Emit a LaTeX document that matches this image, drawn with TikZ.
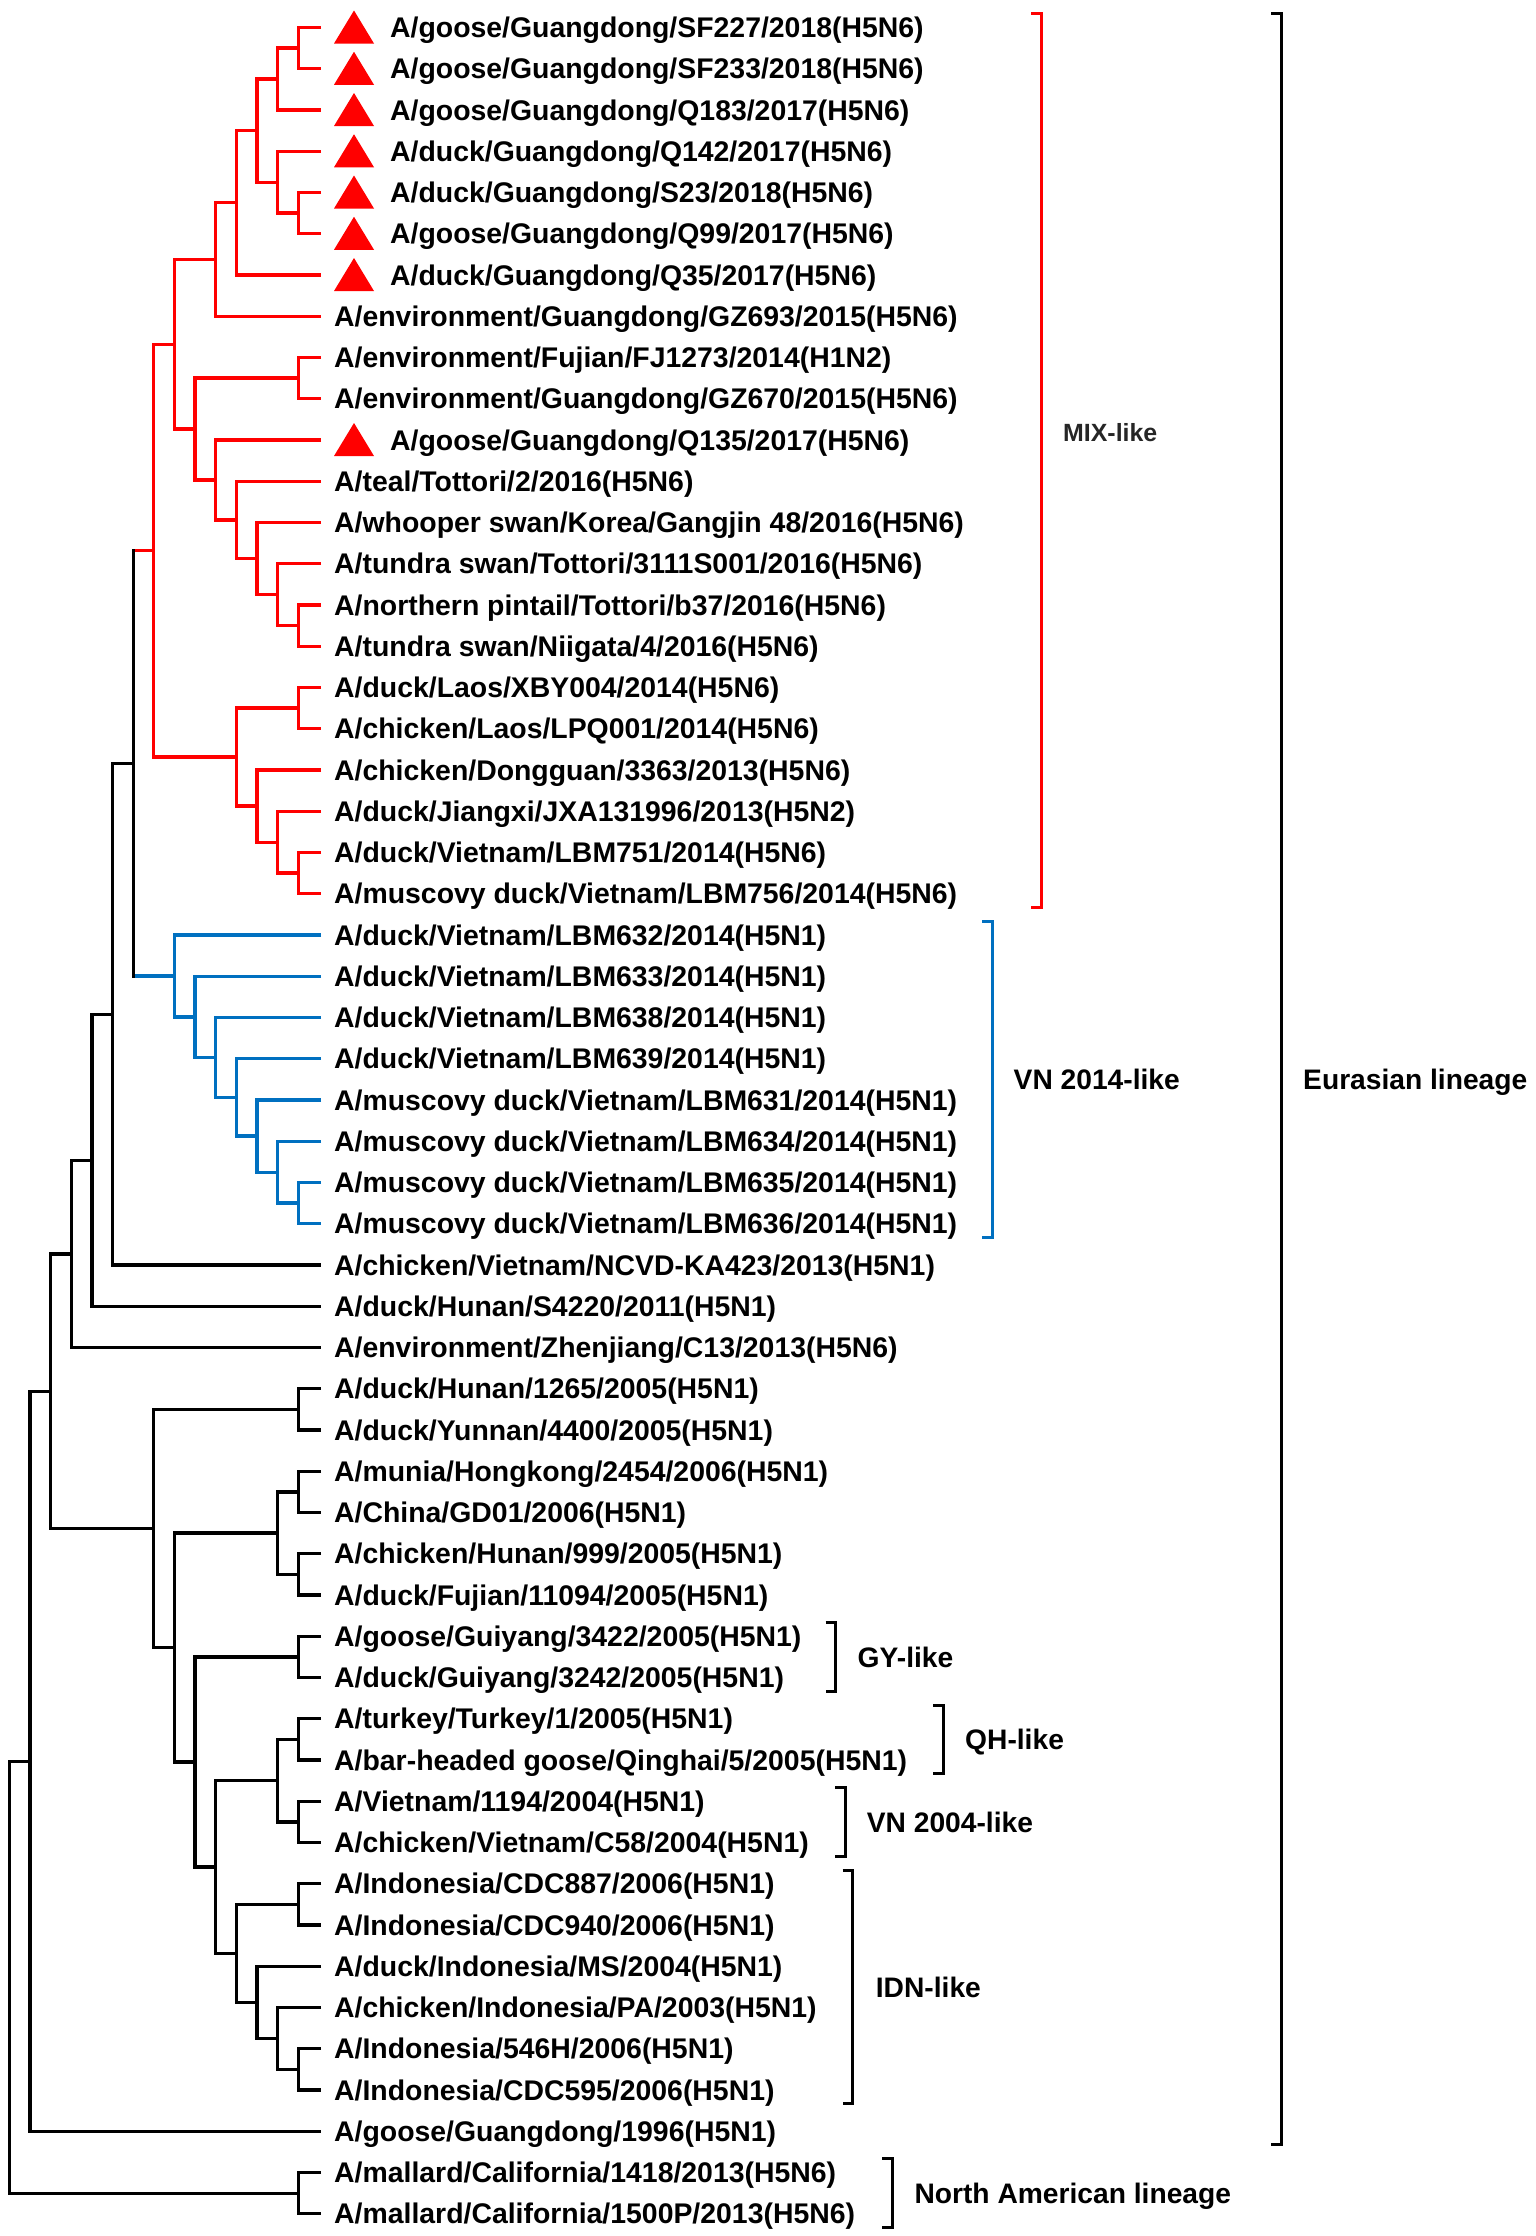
\documentclass[tikz,border=0pt]{standalone}
\usepackage{fontspec}
\setmainfont{Liberation Sans}
\definecolor{treered}{RGB}{255,0,0}
\definecolor{treeblue}{RGB}{0,112,192}
\definecolor{mixgray}{RGB}{38,38,38}
\newcommand\clade[4]{\draw[br,#1] (#3) -- (#2 |- #3) -- (#2 |- #4) -- (#4);}
\tikzset{
  br/.style={line width=3.3pt, line join=miter},
  brk/.style={line width=3pt, line join=miter},
  leaf/.style={font=\bfseries\fontsize{28.4}{34}\selectfont, inner sep=0pt, anchor=base west},
  clab/.style={font=\bfseries\fontsize{28.2}{34}\selectfont, inner sep=0pt, anchor=base west, yshift=-10.2pt},
  tri/.style={fill=treered},
}
\begin{document}
\begin{tikzpicture}[x=1pt, y=-41.25pt]
\fill[white] (0,-0.66667) rectangle (1536,53.5394);
\useasboundingbox (0,-0.66667) rectangle (1536,53.5394);
% leaf tips
\foreach \i in {0,...,53} \coordinate (t\i) at (321,\i);
% internal nodes
\coordinate (a01) at (298.3,0.5);
\coordinate (a012) at (277.7,1.25);
\coordinate (a45) at (298.3,4.5);
\coordinate (a345) at (277.7,3.75);
\coordinate (a05) at (257.0,2.5);
\coordinate (a06) at (236.4,4.25);
\coordinate (a07) at (215.7,5.625);
\coordinate (a89) at (298.3,8.5);
\coordinate (a1415) at (298.3,14.5);
\coordinate (a1315) at (277.7,13.75);
\coordinate (a1215) at (257.0,12.875);
\coordinate (a1115) at (236.4,11.9375);
\coordinate (a1015) at (215.7,10.96875);
\coordinate (a815) at (195.1,9.734375);
\coordinate (a015) at (174.5,7.6797);
\coordinate (a1617) at (298.3,16.5);
\coordinate (a2021) at (298.3,20.5);
\coordinate (a1921) at (277.7,19.75);
\coordinate (a1821) at (257.0,18.875);
\coordinate (a1621) at (236.4,17.6875);
\coordinate (mix) at (153.8,12.6836);
\coordinate (b2829) at (298.3,28.5);
\coordinate (b2729) at (277.7,27.75);
\coordinate (b2629) at (257.0,26.875);
\coordinate (b2529) at (236.4,25.9375);
\coordinate (b2429) at (215.7,24.96875);
\coordinate (b2329) at (195.1,23.984375);
\coordinate (b2229) at (174.5,22.9921875);
\coordinate (c9) at (133.2,17.8379);
\coordinate (c10) at (112.5,23.919);
\coordinate (c11) at (91.9,27.4595);
\coordinate (c12) at (71.3,29.7298);
\coordinate (d3334) at (298.3,33.5);
\coordinate (d3536) at (298.3,35.5);
\coordinate (d3738) at (298.3,37.5);
\coordinate (d3538) at (277.7,36.5);
\coordinate (d3940) at (298.3,39.5);
\coordinate (d4142) at (298.3,41.5);
\coordinate (d4344) at (298.3,43.5);
\coordinate (d4144) at (277.7,42.5);
\coordinate (d4546) at (298.3,45.5);
\coordinate (d4950) at (298.3,49.5);
\coordinate (d4850) at (277.7,48.75);
\coordinate (d4750) at (257.0,47.875);
\coordinate (d4550) at (236.4,46.6875);
\coordinate (d4150) at (215.7,44.59375);
\coordinate (d3950) at (195.1,42.046875);
\coordinate (d3550) at (174.5,39.2734);
\coordinate (d3350) at (153.8,36.3867);
\coordinate (c13) at (50.6,33.058);
\coordinate (c14) at (30.0,42.029);
\coordinate (mal) at (298.3,52.5);
\coordinate (root) at (9.3,47.2645);
% red clade
\clade{treered}{a01}{t0}{t1}
\clade{treered}{a012}{a01}{t2}
\clade{treered}{a45}{t4}{t5}
\clade{treered}{a345}{t3}{a45}
\clade{treered}{a05}{a012}{a345}
\clade{treered}{a06}{a05}{t6}
\clade{treered}{a07}{a06}{t7}
\clade{treered}{a89}{t8}{t9}
\clade{treered}{a1415}{t14}{t15}
\clade{treered}{a1315}{t13}{a1415}
\clade{treered}{a1215}{t12}{a1315}
\clade{treered}{a1115}{t11}{a1215}
\clade{treered}{a1015}{t10}{a1115}
\clade{treered}{a815}{a89}{a1015}
\clade{treered}{a015}{a07}{a815}
\clade{treered}{a1617}{t16}{t17}
\clade{treered}{a2021}{t20}{t21}
\clade{treered}{a1921}{t19}{a2021}
\clade{treered}{a1821}{t18}{a1921}
\clade{treered}{a1621}{a1617}{a1821}
\clade{treered}{mix}{a015}{a1621}
% blue clade
\clade{treeblue}{b2829}{t28}{t29}
\clade{treeblue}{b2729}{t27}{b2829}
\clade{treeblue}{b2629}{t26}{b2729}
\clade{treeblue}{b2529}{t25}{b2629}
\clade{treeblue}{b2429}{t24}{b2529}
\clade{treeblue}{b2329}{t23}{b2429}
\clade{treeblue}{b2229}{t22}{b2329}
% node joining MIX and VN2014 clades
\draw[br,treered] (c9 |- mix) -- (mix);
\draw[br,treeblue] (c9 |- b2229) -- (b2229);
\draw[br,black,line cap=rect] (c9 |- mix) -- (c9 |- b2229);
% black backbone
\clade{black}{c10}{c9}{t30}
\clade{black}{c11}{c10}{t31}
\clade{black}{c12}{c11}{t32}
\clade{black}{d3334}{t33}{t34}
\clade{black}{d3536}{t35}{t36}
\clade{black}{d3738}{t37}{t38}
\clade{black}{d3538}{d3536}{d3738}
\clade{black}{d3940}{t39}{t40}
\clade{black}{d4142}{t41}{t42}
\clade{black}{d4344}{t43}{t44}
\clade{black}{d4144}{d4142}{d4344}
\clade{black}{d4546}{t45}{t46}
\clade{black}{d4950}{t49}{t50}
\clade{black}{d4850}{t48}{d4950}
\clade{black}{d4750}{t47}{d4850}
\clade{black}{d4550}{d4546}{d4750}
\clade{black}{d4150}{d4144}{d4550}
\clade{black}{d3950}{d3940}{d4150}
\clade{black}{d3550}{d3538}{d3950}
\clade{black}{d3350}{d3334}{d3550}
\clade{black}{c13}{c12}{d3350}
\clade{black}{c14}{c13}{t51}
\clade{black}{mal}{t52}{t53}
\clade{black}{root}{c14}{mal}
% triangles
\foreach \i in {0,...,6,10}
  \fill[tri] ([xshift=13pt,yshift=-16pt]t\i) -- ([xshift=53pt,yshift=-16pt]t\i) -- ([xshift=33pt,yshift=17pt]t\i) -- cycle;
% leaf labels
\node[leaf] (l0) at ([xshift=69pt,yshift=-10.2pt]t0) {A/goose/Guangdong/SF227/2018(H5N6)};
\node[leaf] (l1) at ([xshift=69pt,yshift=-10.2pt]t1) {A/goose/Guangdong/SF233/2018(H5N6)};
\node[leaf] (l2) at ([xshift=69pt,yshift=-10.2pt]t2) {A/goose/Guangdong/Q183/2017(H5N6)};
\node[leaf] (l3) at ([xshift=69pt,yshift=-10.2pt]t3) {A/duck/Guangdong/Q142/2017(H5N6)};
\node[leaf] (l4) at ([xshift=69pt,yshift=-10.2pt]t4) {A/duck/Guangdong/S23/2018(H5N6)};
\node[leaf] (l5) at ([xshift=69pt,yshift=-10.2pt]t5) {A/goose/Guangdong/Q99/2017(H5N6)};
\node[leaf] (l6) at ([xshift=69pt,yshift=-10.2pt]t6) {A/duck/Guangdong/Q35/2017(H5N6)};
\node[leaf] (l7) at ([xshift=13pt,yshift=-10.2pt]t7) {A/environment/Guangdong/GZ693/2015(H5N6)};
\node[leaf] (l8) at ([xshift=13pt,yshift=-10.2pt]t8) {A/environment/Fujian/FJ1273/2014(H1N2)};
\node[leaf] (l9) at ([xshift=13pt,yshift=-10.2pt]t9) {A/environment/Guangdong/GZ670/2015(H5N6)};
\node[leaf] (l10) at ([xshift=69pt,yshift=-10.2pt]t10) {A/goose/Guangdong/Q135/2017(H5N6)};
\node[leaf] (l11) at ([xshift=13pt,yshift=-10.2pt]t11) {A/teal/Tottori/2/2016(H5N6)};
\node[leaf] (l12) at ([xshift=13pt,yshift=-10.2pt]t12) {A/whooper swan/Korea/Gangjin 48/2016(H5N6)};
\node[leaf] (l13) at ([xshift=13pt,yshift=-10.2pt]t13) {A/tundra swan/Tottori/3111S001/2016(H5N6)};
\node[leaf] (l14) at ([xshift=13pt,yshift=-10.2pt]t14) {A/northern pintail/Tottori/b37/2016(H5N6)};
\node[leaf] (l15) at ([xshift=13pt,yshift=-10.2pt]t15) {A/tundra swan/Niigata/4/2016(H5N6)};
\node[leaf] (l16) at ([xshift=13pt,yshift=-10.2pt]t16) {A/duck/Laos/XBY004/2014(H5N6)};
\node[leaf] (l17) at ([xshift=13pt,yshift=-10.2pt]t17) {A/chicken/Laos/LPQ001/2014(H5N6)};
\node[leaf] (l18) at ([xshift=13pt,yshift=-10.2pt]t18) {A/chicken/Dongguan/3363/2013(H5N6)};
\node[leaf] (l19) at ([xshift=13pt,yshift=-10.2pt]t19) {A/duck/Jiangxi/JXA131996/2013(H5N2)};
\node[leaf] (l20) at ([xshift=13pt,yshift=-10.2pt]t20) {A/duck/Vietnam/LBM751/2014(H5N6)};
\node[leaf] (l21) at ([xshift=13pt,yshift=-10.2pt]t21) {A/muscovy duck/Vietnam/LBM756/2014(H5N6)};
\node[leaf] (l22) at ([xshift=13pt,yshift=-10.2pt]t22) {A/duck/Vietnam/LBM632/2014(H5N1)};
\node[leaf] (l23) at ([xshift=13pt,yshift=-10.2pt]t23) {A/duck/Vietnam/LBM633/2014(H5N1)};
\node[leaf] (l24) at ([xshift=13pt,yshift=-10.2pt]t24) {A/duck/Vietnam/LBM638/2014(H5N1)};
\node[leaf] (l25) at ([xshift=13pt,yshift=-10.2pt]t25) {A/duck/Vietnam/LBM639/2014(H5N1)};
\node[leaf] (l26) at ([xshift=13pt,yshift=-10.2pt]t26) {A/muscovy duck/Vietnam/LBM631/2014(H5N1)};
\node[leaf] (l27) at ([xshift=13pt,yshift=-10.2pt]t27) {A/muscovy duck/Vietnam/LBM634/2014(H5N1)};
\node[leaf] (l28) at ([xshift=13pt,yshift=-10.2pt]t28) {A/muscovy duck/Vietnam/LBM635/2014(H5N1)};
\node[leaf] (l29) at ([xshift=13pt,yshift=-10.2pt]t29) {A/muscovy duck/Vietnam/LBM636/2014(H5N1)};
\node[leaf] (l30) at ([xshift=13pt,yshift=-10.2pt]t30) {A/chicken/Vietnam/NCVD-KA423/2013(H5N1)};
\node[leaf] (l31) at ([xshift=13pt,yshift=-10.2pt]t31) {A/duck/Hunan/S4220/2011(H5N1)};
\node[leaf] (l32) at ([xshift=13pt,yshift=-10.2pt]t32) {A/environment/Zhenjiang/C13/2013(H5N6)};
\node[leaf] (l33) at ([xshift=13pt,yshift=-10.2pt]t33) {A/duck/Hunan/1265/2005(H5N1)};
\node[leaf] (l34) at ([xshift=13pt,yshift=-10.2pt]t34) {A/duck/Yunnan/4400/2005(H5N1)};
\node[leaf] (l35) at ([xshift=13pt,yshift=-10.2pt]t35) {A/munia/Hongkong/2454/2006(H5N1)};
\node[leaf] (l36) at ([xshift=13pt,yshift=-10.2pt]t36) {A/China/GD01/2006(H5N1)};
\node[leaf] (l37) at ([xshift=13pt,yshift=-10.2pt]t37) {A/chicken/Hunan/999/2005(H5N1)};
\node[leaf] (l38) at ([xshift=13pt,yshift=-10.2pt]t38) {A/duck/Fujian/11094/2005(H5N1)};
\node[leaf] (l39) at ([xshift=13pt,yshift=-10.2pt]t39) {A/goose/Guiyang/3422/2005(H5N1)};
\node[leaf] (l40) at ([xshift=13pt,yshift=-10.2pt]t40) {A/duck/Guiyang/3242/2005(H5N1)};
\node[leaf] (l41) at ([xshift=13pt,yshift=-10.2pt]t41) {A/turkey/Turkey/1/2005(H5N1)};
\node[leaf] (l42) at ([xshift=13pt,yshift=-10.2pt]t42) {A/bar-headed goose/Qinghai/5/2005(H5N1)};
\node[leaf] (l43) at ([xshift=13pt,yshift=-10.2pt]t43) {A/Vietnam/1194/2004(H5N1)};
\node[leaf] (l44) at ([xshift=13pt,yshift=-10.2pt]t44) {A/chicken/Vietnam/C58/2004(H5N1)};
\node[leaf] (l45) at ([xshift=13pt,yshift=-10.2pt]t45) {A/Indonesia/CDC887/2006(H5N1)};
\node[leaf] (l46) at ([xshift=13pt,yshift=-10.2pt]t46) {A/Indonesia/CDC940/2006(H5N1)};
\node[leaf] (l47) at ([xshift=13pt,yshift=-10.2pt]t47) {A/duck/Indonesia/MS/2004(H5N1)};
\node[leaf] (l48) at ([xshift=13pt,yshift=-10.2pt]t48) {A/chicken/Indonesia/PA/2003(H5N1)};
\node[leaf] (l49) at ([xshift=13pt,yshift=-10.2pt]t49) {A/Indonesia/546H/2006(H5N1)};
\node[leaf] (l50) at ([xshift=13pt,yshift=-10.2pt]t50) {A/Indonesia/CDC595/2006(H5N1)};
\node[leaf] (l51) at ([xshift=13pt,yshift=-10.2pt]t51) {A/goose/Guangdong/1996(H5N1)};
\node[leaf] (l52) at ([xshift=13pt,yshift=-10.2pt]t52) {A/mallard/California/1418/2013(H5N6)};
\node[leaf] (l53) at ([xshift=13pt,yshift=-10.2pt]t53) {A/mallard/California/1500P/2013(H5N6)};
% brackets
\coordinate (mixT) at (1041,-0.33); \coordinate (mixB) at (1041,21.33);
\coordinate (vnT) at (992,21.67); \coordinate (vnB) at (992,29.33);
\coordinate (euT) at (1281,-0.33); \coordinate (euB) at (1281,51.33);
\coordinate (gyT) at (835.7,38.67); \coordinate (gyB) at (835.7,40.33);
\coordinate (qhT) at (943.3,40.67); \coordinate (qhB) at (943.3,42.33);
\coordinate (v4T) at (845,42.67); \coordinate (v4B) at (845,44.33);
\coordinate (idT) at (852.7,44.67); \coordinate (idB) at (852.7,50.33);
\coordinate (naT) at (892.3,51.67); \coordinate (naB) at (892.3,53.33);
\draw[brk,treered] ([xshift=-10pt]mixT) -- (mixT) -- (mixB) -- ([xshift=-10pt]mixB);
\draw[brk,treeblue] ([xshift=-10pt]vnT) -- (vnT) -- (vnB) -- ([xshift=-10pt]vnB);
\draw[brk,black] ([xshift=-10pt]euT) -- (euT) -- (euB) -- ([xshift=-10pt]euB);
\draw[brk,black] ([xshift=-10pt]gyT) -- (gyT) -- (gyB) -- ([xshift=-10pt]gyB);
\draw[brk,black] ([xshift=-10pt]qhT) -- (qhT) -- (qhB) -- ([xshift=-10pt]qhB);
\draw[brk,black] ([xshift=-10pt]v4T) -- (v4T) -- (v4B) -- ([xshift=-10pt]v4B);
\draw[brk,black] ([xshift=-10pt]idT) -- (idT) -- (idB) -- ([xshift=-10pt]idB);
\draw[brk,black] ([xshift=-10pt]naT) -- (naT) -- (naB) -- ([xshift=-10pt]naB);
% clade labels
\node[clab, font=\bfseries\fontsize{24.9}{30}\selectfont, text=mixgray, yshift=1.3pt] (mixlab) at (1063,9.818) {MIX-like};
\node[clab] (vnlab) at (1013.5,25.5) {VN 2014-like};
\node[clab] (eulab) at (1303,25.5) {Eurasian lineage};
\node[clab] (gylab) at (857.5,39.5) {GY-like};
\node[clab] (qhlab) at (965,41.5) {QH-like};
\node[clab] (v4lab) at (866.7,43.5) {VN 2004-like};
\node[clab] (idlab) at (875.7,47.5) {IDN-like};
\node[clab] (nalab) at (914.3,52.5) {North American lineage};
\end{tikzpicture}
\end{document}
